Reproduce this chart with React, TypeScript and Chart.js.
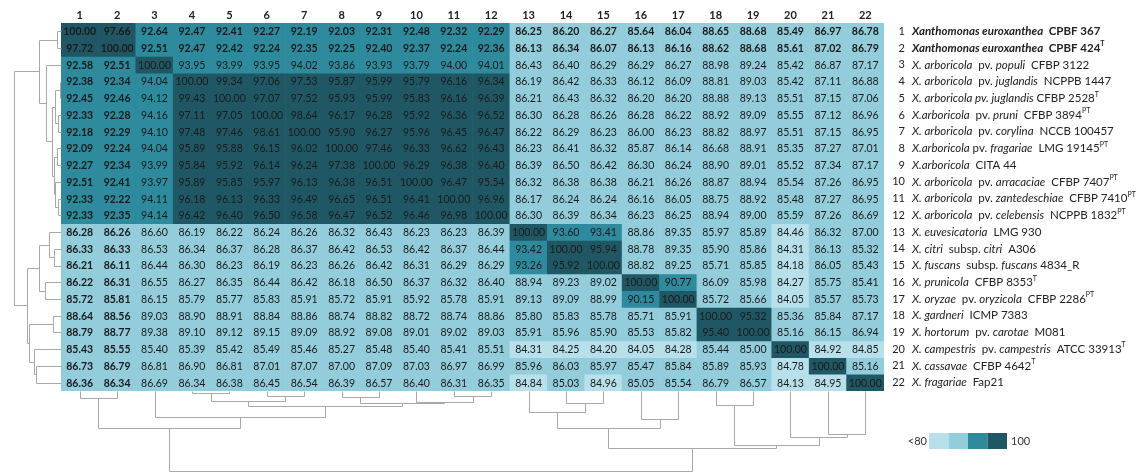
import React, { useEffect, useRef } from 'react';
import { Chart, registerables } from 'chart.js';

Chart.register(...registerables);

// ---------- data ----------
const strainNumbers = ['1','2','3','4','5','6','7','8','9','10','11','12','13','14','15','16','17','18','19','20','21','22'];

const r01 = [100.00,97.66,92.64,92.47,92.41,92.27,92.19,92.03,92.31,92.48,92.32,92.29,86.25,86.20,86.27,85.64,86.04,88.65,88.68,85.49,86.97,86.78];
const r02 = [97.72,100.00,92.51,92.47,92.42,92.24,92.35,92.25,92.40,92.37,92.24,92.36,86.13,86.34,86.07,86.13,86.16,88.62,88.68,85.61,87.02,86.79];
const r03 = [92.58,92.51,100.00,93.95,93.99,93.95,94.02,93.86,93.93,93.79,94.00,94.01,86.43,86.40,86.29,86.29,86.27,88.98,89.24,85.42,86.87,87.17];
const r04 = [92.38,92.34,94.04,100.00,99.34,97.06,97.53,95.87,95.99,95.79,96.16,96.34,86.19,86.42,86.33,86.12,86.09,88.81,89.03,85.42,87.11,86.88];
const r05 = [92.45,92.46,94.12,99.43,100.00,97.07,97.52,95.93,95.99,95.83,96.16,96.39,86.21,86.43,86.32,86.20,86.20,88.88,89.13,85.51,87.15,87.06];
const r06 = [92.33,92.28,94.16,97.11,97.05,100.00,98.64,96.17,96.28,95.92,96.36,96.52,86.30,86.28,86.26,86.28,86.22,88.92,89.09,85.55,87.12,86.96];
const r07 = [92.18,92.29,94.10,97.48,97.46,98.61,100.00,95.90,96.27,95.96,96.45,96.47,86.22,86.29,86.23,86.00,86.23,88.82,88.97,85.51,87.15,86.95];
const r08 = [92.09,92.24,94.04,95.89,95.88,96.15,96.02,100.00,97.46,96.33,96.62,96.43,86.23,86.41,86.32,85.87,86.14,86.68,88.91,85.35,87.27,87.01];
const r09 = [92.27,92.34,93.99,95.84,95.92,96.14,96.24,97.38,100.00,96.29,96.38,96.40,86.39,86.50,86.42,86.30,86.24,88.90,89.01,85.52,87.34,87.17];
const r10 = [92.51,92.41,93.97,95.89,95.85,95.97,96.13,96.38,96.51,100.00,96.47,95.54,86.32,86.38,86.38,86.21,86.26,88.87,88.94,85.54,87.26,86.95];
const r11 = [92.33,92.22,94.11,96.18,96.13,96.33,96.49,96.65,96.51,96.41,100.00,96.96,86.17,86.24,86.24,86.16,86.05,88.75,88.92,85.48,87.27,86.95];
const r12 = [92.33,92.35,94.14,96.42,96.40,96.50,96.58,96.47,96.52,96.46,96.98,100.00,86.30,86.39,86.34,86.23,86.25,88.94,89.00,85.59,87.26,86.69];
const r13 = [86.28,86.26,86.60,86.19,86.22,86.24,86.26,86.32,86.43,86.23,86.23,86.39,100.00,93.60,93.41,88.86,89.35,85.97,85.89,84.46,86.32,87.00];
const r14 = [86.33,86.33,86.53,86.34,86.37,86.28,86.37,86.42,86.53,86.42,86.37,86.44,93.42,100.00,95.94,88.78,89.35,85.90,85.86,84.31,86.13,85.32];
const r15 = [86.21,86.11,86.44,86.30,86.23,86.19,86.23,86.26,86.42,86.31,86.29,86.29,93.26,95.92,100.00,88.82,89.25,85.71,85.85,84.18,86.05,85.43];
const r16 = [86.22,86.31,86.55,86.27,86.35,86.44,86.42,86.18,86.50,86.37,86.32,86.40,88.94,89.23,89.02,100.00,90.77,86.09,85.98,84.27,85.75,85.41];
const r17 = [85.72,85.81,86.15,85.79,85.77,85.83,85.91,85.72,85.91,85.92,85.78,85.91,89.13,89.09,88.99,90.15,100.00,85.72,85.66,84.05,85.57,85.73];
const r18 = [88.64,88.56,89.03,88.90,88.91,88.84,88.86,88.74,88.82,88.72,88.74,88.86,85.80,85.83,85.78,85.71,85.91,100.00,95.32,85.36,85.84,87.17];
const r19 = [88.79,88.77,89.38,89.10,89.12,89.15,89.09,88.92,89.08,89.01,89.02,89.03,85.91,85.96,85.90,85.53,85.82,95.40,100.00,85.16,86.15,86.94];
const r20 = [85.43,85.55,85.40,85.39,85.42,85.49,85.46,85.27,85.48,85.40,85.41,85.51,84.31,84.25,84.20,84.05,84.28,85.44,85.00,100.00,84.92,84.85];
const r21 = [86.73,86.79,86.81,86.90,86.81,87.01,87.07,87.00,87.09,87.03,86.97,86.99,85.96,86.03,85.97,85.47,85.84,85.89,85.93,84.78,100.00,85.16];
const r22 = [86.36,86.34,86.69,86.34,86.38,86.45,86.54,86.39,86.57,86.40,86.31,86.35,84.84,85.03,84.96,85.05,85.54,86.79,86.57,84.13,84.95,100.00];

const aniRows = [r01,r02,r03,r04,r05,r06,r07,r08,r09,r10,r11,r12,r13,r14,r15,r16,r17,r18,r19,r20,r21,r22];

// colour bins
const binThresholds = [85, 90, 95];
const binColors = ['#b8e0ea', '#93cddc', '#2e8a9d', '#1f5864'];
const legendLabels = ['<80', '100'];

// strain labels: [text, style]
type Seg = [string, string];
const strainLabels: Seg[][] = [
  [['Xanthomonas euroxanthea','bi'],['  CPBF 367','b']],
  [['Xanthomonas euroxanthea','bi'],['  CPBF 424','b'],['T','supb']],
  [['X. arboricola','i'],['  pv. ','n'],['populi','i'],['  CFBP 3122','n']],
  [['X. arboricola','i'],['  pv. ','n'],['juglandis','i'],['  NCPPB 1447','n']],
  [['X. arboricola pv. juglandis','i'],[' CFBP 2528','n'],['T','sup']],
  [['X.arboricola','i'],['  pv. ','n'],['pruni','i'],['  CFBP 3894','n'],['PT','sup']],
  [['X. arboricola','i'],['  pv. ','n'],['corylina','i'],['  NCCB 100457','n']],
  [['X.arboricola','i'],[' pv. ','n'],['fragariae','i'],['  LMG 19145','n'],['PT','sup']],
  [['X.arboricola','i'],['  CITA 44','n']],
  [['X. arboricola','i'],['  pv. ','n'],['arracaciae','i'],['  CFBP 7407','n'],['PT','sup']],
  [['X. arboricola','i'],['  pv. ','n'],['zantedeschiae','i'],['  CFBP 7410','n'],['PT','sup']],
  [['X. arboricola','i'],['  pv. ','n'],['celebensis','i'],['  NCPPB 1832','n'],['PT','sup']],
  [['X. euvesicatoria','i'],['  LMG 930','n']],
  [['X. citri','i'],['  subsp. ','n'],['citri','i'],['  A306','n']],
  [['X. fuscans','i'],['  subsp. ','n'],['fuscans','i'],[' 4834_R','n']],
  [['X. prunicola','i'],['  CFBP 8353','n'],['T','sup']],
  [['X. oryzae','i'],['  pv. ','n'],['oryzicola','i'],['  CFBP 2286','n'],['PT','sup']],
  [['X. gardneri','i'],['  ICMP 7383','n']],
  [['X. hortorum','i'],['  pv. ','n'],['carotae','i'],['  M081','n']],
  [['X. campestris','i'],['  pv. ','n'],['campestris','i'],['  ATCC 33913','n'],['T','sup']],
  [['X. cassavae','i'],['  CFBP 4642','n'],['T','sup']],
  [['X. fragariae','i'],['  Fap21','n']],
];

// dendrogram linkage (leaves 0..21, merged nodes 22..42)
const linkA = [0, 3, 5, 23, 7, 10, 9, 26, 25, 2, 22, 13, 12, 15, 34, 17, 20, 19, 37, 36, 32];
const linkB = [1, 4, 6, 24, 8, 11, 27, 28, 29, 30, 31, 14, 33, 16, 35, 18, 21, 38, 39, 40, 41];
const linkHeight = [7, 2, 5, 10, 6, 5, 11, 12, 15, 26, 37, 12, 21, 28, 37, 14, 43, 46, 54, 57, 80];

// ---------- helpers ----------
const FONT = 'Lato, "Open Sans", "DejaVu Sans", sans-serif';
const colorFor = (v: number) => binColors[binThresholds.filter((t) => v >= t).length];

function drawTree(ctx: CanvasRenderingContext2D, leafPos: number[], hPix: (h: number) => number, vertical: boolean) {
  const pos = leafPos.slice();
  const ht = leafPos.map(() => hPix(0));
  const P = (a: number, b: number): [number, number] => (vertical ? [Math.round(a) + 0.5, Math.round(b) + 0.5] : [Math.round(b) + 0.5, Math.round(a) + 0.5]);
  ctx.beginPath();
  for (let k = 0; k < linkA.length; k++) {
    const a = linkA[k], b = linkB[k];
    const h = hPix(linkHeight[k]);
    const p1 = P(pos[a], ht[a]), p2 = P(pos[a], h), p3 = P(pos[b], h), p4 = P(pos[b], ht[b]);
    ctx.moveTo(...p1); ctx.lineTo(...p2); ctx.lineTo(...p3); ctx.lineTo(...p4);
    pos.push((pos[a] + pos[b]) / 2);
    ht.push(h);
  }
  ctx.stroke();
}

const overlay = {
  id: 'overlay',
  afterDatasetsDraw(chart: any) {
    const ctx: CanvasRenderingContext2D = chart.ctx;
    const xs = chart.scales.x, ys = chart.scales.y;
    const dx = chart.scales.dendX, dy = chart.scales.dendY;
    const area = chart.chartArea;
    ctx.save();

    // cell values
    ctx.textAlign = 'center';
    ctx.textBaseline = 'middle';
    ctx.fillStyle = '#1a1a1a';
    aniRows.forEach((row, i) => row.forEach((v, j) => {
      ctx.font = `${i < 2 || j < 2 ? 'bold ' : ''}10.5px ${FONT}`;
      ctx.fillText(v.toFixed(2), xs.getPixelForValue(j), ys.getPixelForValue(i + 0.5) + 0.5);
    }));

    // column headers
    ctx.font = `bold 11px ${FONT}`;
    ctx.fillStyle = '#222';
    strainNumbers.forEach((s, j) => ctx.fillText(s, xs.getPixelForValue(j), area.top - 8));

    // row labels
    ctx.textBaseline = 'middle';
    strainLabels.forEach((segs, i) => {
      const y = ys.getPixelForValue(i + 0.5);
      ctx.textAlign = 'right';
      ctx.font = `11px ${FONT}`;
      ctx.fillStyle = '#222';
      ctx.fillText(strainNumbers[i], area.right + 21, y);
      ctx.textAlign = 'left';
      let x = area.right + 28;
      segs.forEach(([t, st]) => {
        const sup = st.startsWith('sup');
        const bold = st.includes('b');
        const ital = st.includes('i');
        ctx.font = `${ital ? 'italic ' : ''}${bold ? 'bold ' : ''}${sup ? 7 : 11.5}px ${FONT}`;
        ctx.fillText(t, x, sup ? y - 4 : y);
        x += ctx.measureText(t).width;
      });
    });

    // dendrograms (heights grow away from the matrix)
    ctx.strokeStyle = '#a8a8a8';
    ctx.lineWidth = 1;
    const rowPos = strainNumbers.map((_, i) => ys.getPixelForValue(i + 0.5));
    const colPos = strainNumbers.map((_, j) => xs.getPixelForValue(j));
    drawTree(ctx, rowPos, (h) => dx.getPixelForValue(-h), false);
    drawTree(ctx, colPos, (h) => dy.getPixelForValue(-h), true);

    // colour legend
    const lx = area.right + 45, ly = 433, bw = 19.5, bh = 16;
    binColors.forEach((c, k) => {
      ctx.fillStyle = c;
      ctx.fillRect(lx + k * bw, ly, bw, bh);
    });
    ctx.fillStyle = '#333';
    ctx.font = `11px ${FONT}`;
    ctx.textAlign = 'right';
    ctx.fillText(legendLabels[0], lx - 2, ly + bh / 2);
    ctx.textAlign = 'left';
    ctx.fillText(legendLabels[1], lx + 4 * bw + 4, ly + bh / 2);

    ctx.restore();
  },
};

export default function App() {
  const ref = useRef<HTMLCanvasElement>(null);
  useEffect(() => {
    const datasets = aniRows.map((row, i) => ({
      label: strainNumbers[i],
      data: row.map((_, j) => ({ x: strainNumbers[j], y: [i, i + 1] })),
      backgroundColor: row.map(colorFor),
      borderWidth: 0,
      barPercentage: 1,
      categoryPercentage: 1,
      grouped: false,
    }));
    const chart = new Chart(ref.current as HTMLCanvasElement, {
      type: 'bar',
      data: { labels: strainNumbers, datasets: datasets as any },
      options: {
        responsive: false,
        devicePixelRatio: 1,
        animation: false,
        events: [],
        layout: { padding: { left: 61, right: 261, top: 23, bottom: 82 } },
        plugins: { legend: { display: false }, tooltip: { enabled: false }, title: { display: false } },
        scales: {
          x: { type: 'category', display: false, offset: true, grid: { display: false } },
          y: { type: 'linear', display: false, min: 0, max: 22, reverse: true, grid: { display: false } },
          dendX: { type: 'linear', axis: 'x', position: 'bottom', display: false, offset: false, min: 0, max: 1400 },
          dendY: { type: 'linear', axis: 'y', position: 'left', display: false, offset: false, min: 0, max: 368 },
        } as any,
      },
      plugins: [overlay],
    });
    return () => chart.destroy();
  }, []);
  return (
    <div style={{ position: 'fixed', left: 0, top: 0, width: 1145, height: 473, background: '#fff' }}>
      <canvas ref={ref} width={1145} height={473} style={{ display: 'block' }} />
    </div>
  );
}
